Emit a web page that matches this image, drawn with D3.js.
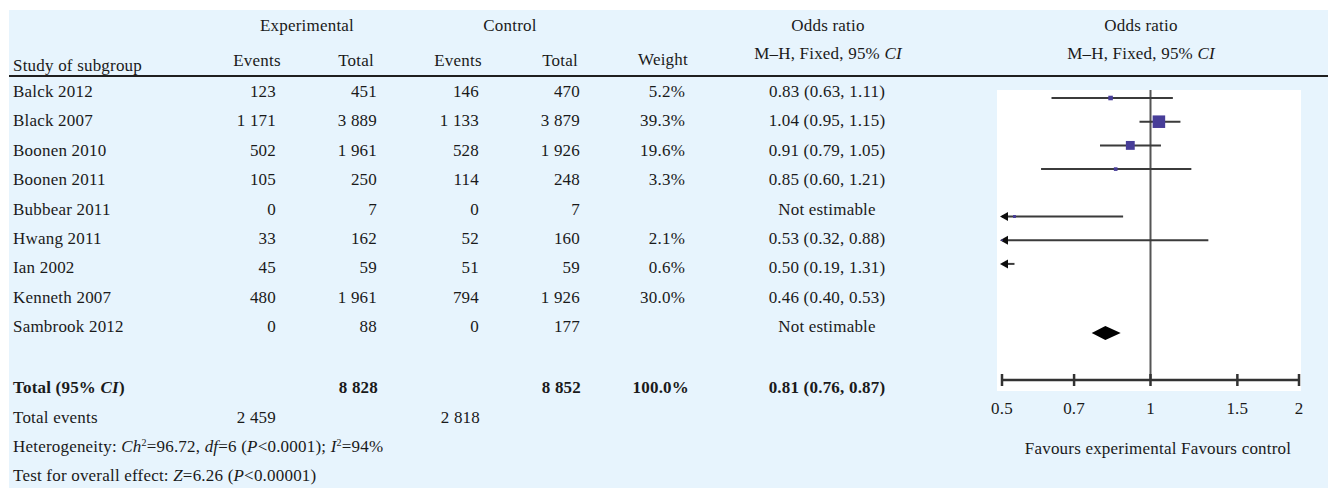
<!DOCTYPE html>
<html>
<head>
<meta charset="utf-8">
<script src="https://cdn.jsdelivr.net/npm/d3@7"></script>
<style>
  html, body { margin: 0; padding: 0; background: #ffffff; }
  svg { display: block; }
  text { font-family: "Liberation Serif", "Times New Roman", serif; font-size: 17px; letter-spacing: 0.2px; fill: #1a1a1a; }
</style>
</head>
<body>
<svg id="chart" width="1328" height="488"></svg>
<script>
// Study-level data
const studies   = ["Balck 2012", "Black 2007", "Boonen 2010", "Boonen 2011", "Bubbear 2011",
                   "Hwang 2011", "Ian 2002", "Kenneth 2007", "Sambrook 2012"];
const expEvents = [123, 1171, 502, 105, 0, 33, 45, 480, 0];
const expTotal  = [451, 3889, 1961, 250, 7, 162, 59, 1961, 88];
const ctlEvents = [146, 1133, 528, 114, 0, 52, 51, 794, 0];
const ctlTotal  = [470, 3879, 1926, 248, 7, 160, 59, 1926, 177];
const weights   = [5.2, 39.3, 19.6, 3.3, null, 2.1, 0.6, 30.0, null];
const orEst     = [0.83, 1.04, 0.91, 0.85, null, 0.53, 0.50, 0.46, null];
const orLow     = [0.63, 0.95, 0.79, 0.60, null, 0.32, 0.19, 0.40, null];
const orHigh    = [1.11, 1.15, 1.05, 1.21, null, 0.88, 1.31, 0.53, null];

// Pooled result
const totalExp = 8828, totalCtl = 8852, totalWeight = 100.0;
const pooledOR = [0.81, 0.76, 0.87];
const totalEventsExp = 2459, totalEventsCtl = 2818;

// Axis ticks of the forest plot
const axisTicks = [0.5, 0.7, 1, 1.5, 2];

const svg = d3.select("#chart");
const num = v => d3.format(",")(v).replace(/,/g, " ");
const f2 = d3.format(".2f");
const orText = (m, l, h) => `${f2(m)} (${f2(l)}, ${f2(h)})`;

// Background panel
svg.append("rect").attr("x", 9).attr("y", 10).attr("width", 1319).attr("height", 478).attr("fill", "#e7f4fd");

// Header
const hdr = svg.append("g");
const headText = (x, y, t, anchor = "middle") =>
  hdr.append("text").attr("x", x).attr("y", y).attr("dy", "0.35em").attr("text-anchor", anchor).text(t);
headText(307, 25, "Experimental");
headText(510, 25, "Control");
headText(828, 25, "Odds ratio");
headText(1141, 25, "Odds ratio");
headText(13, 65, "Study of subgroup", "start");
headText(257, 60, "Events");
headText(356, 60, "Total");
headText(458, 60, "Events");
headText(560, 60, "Total");
headText(663, 59, "Weight");
[828, 1141].forEach(cx => {
  const t = headText(cx, 53, "");
  t.append("tspan").text("M–H, Fixed, 95% ");
  t.append("tspan").attr("font-style", "italic").text("CI");
});
svg.append("line").attr("x1", 9).attr("x2", 1328).attr("y1", 76).attr("y2", 76)
  .attr("stroke", "#1f1f1f").attr("stroke-width", 2);

// Table rows
const rowY = d3.scaleLinear().domain([0, 1]).range([91, 120.4]);
const tbl = svg.append("g");
studies.forEach((s, i) => {
  const y = rowY(i);
  const cell = (x, t, anchor = "end") =>
    tbl.append("text").attr("x", x).attr("y", y).attr("dy", "0.35em").attr("text-anchor", anchor).text(t);
  cell(13, s, "start");
  cell(276, num(expEvents[i]));
  cell(377, num(expTotal[i]));
  cell(479, num(ctlEvents[i]));
  cell(580, num(ctlTotal[i]));
  if (weights[i] != null) cell(685, d3.format(".1f")(weights[i]) + "%");
  cell(827, orEst[i] != null ? orText(orEst[i], orLow[i], orHigh[i]) : "Not estimable", "middle");
});

// Summary rows
const totY = 387;
const bold = (x, y, t, anchor = "end") =>
  tbl.append("text").attr("x", x).attr("y", y).attr("dy", "0.35em").attr("text-anchor", anchor)
    .attr("font-weight", "bold").text(t);
const tt = bold(13, totY, "", "start");
tt.append("tspan").text("Total (95% ");
tt.append("tspan").attr("font-style", "italic").text("CI");
tt.append("tspan").text(")");
bold(378, totY, num(totalExp));
bold(581, totY, num(totalCtl));
bold(689, totY, d3.format(".1f")(totalWeight) + "%");
bold(827, totY, orText(...pooledOR), "middle");

const evY = 417;
tbl.append("text").attr("x", 13).attr("y", evY).attr("dy", "0.35em").text("Total events");
tbl.append("text").attr("x", 276).attr("y", evY).attr("dy", "0.35em").attr("text-anchor", "end").text(num(totalEventsExp));
tbl.append("text").attr("x", 480).attr("y", evY).attr("dy", "0.35em").attr("text-anchor", "end").text(num(totalEventsCtl));

const het = tbl.append("text").attr("x", 13).attr("y", 446).attr("dy", "0.35em");
[["Heterogeneity: ", 0], ["Ch", 1], ["2", 2], ["=96.72, ", 3], ["df", 1], ["=6 (", 0], ["P", 1],
 ["<0.0001); ", 0], ["I", 1], ["2", 2], ["=94%", 3]].forEach(([t, k]) => {
  const sp = het.append("tspan").text(t);
  if (k === 1) sp.attr("font-style", "italic");
  if (k === 2) sp.attr("font-size", "10px").attr("dy", "-6");
  if (k === 3) sp.attr("dy", "6");
});
const test = tbl.append("text").attr("x", 13).attr("y", 475).attr("dy", "0.35em");
[["Test for overall effect: ", 0], ["Z", 1], ["=6.26 (", 0], ["P", 1], ["<0.00001)", 0]].forEach(([t, k]) => {
  const sp = test.append("tspan").text(t);
  if (k === 1) sp.attr("font-style", "italic");
});

// Forest plot panel
const panel = { x0: 997, x1: 1301, y0: 90, y1: 391 };
svg.append("rect").attr("x", panel.x0).attr("y", panel.y0)
  .attr("width", panel.x1 - panel.x0).attr("height", panel.y1 - panel.y0).attr("fill", "#ffffff");

const x = d3.scaleLog().domain([0.5, 2]).range([1002, 1299]);
const fy = d3.scaleLinear().domain([0, 10]).range([98, 335]);
const axisY = 380;

const defs = svg.append("defs");
defs.append("filter").attr("id", "soft").attr("filterUnits", "userSpaceOnUse")
  .attr("x", 980).attr("y", 80).attr("width", 340).attr("height", 330)
  .append("feGaussianBlur").attr("stdDeviation", 0.75);
defs.append("clipPath").attr("id", "plotClip").append("rect")
  .attr("x", panel.x0).attr("y", panel.y0).attr("width", panel.x1 - panel.x0).attr("height", panel.y1 - panel.y0);

const fg = svg.append("g").attr("filter", "url(#soft)").attr("clip-path", "url(#plotClip)");
const [dMin, dMax] = x.domain();

// Line of no effect
fg.append("line").attr("x1", x(1)).attr("x2", x(1)).attr("y1", panel.y0).attr("y2", axisY)
  .attr("stroke", "#555").attr("stroke-width", 2);

// Confidence intervals, arrows for clipped bounds, weighted squares
studies.forEach((s, i) => {
  if (orEst[i] == null) return;
  const y = fy(i);
  const lo = Math.max(orLow[i], dMin), hi = Math.min(orHigh[i], dMax);
  fg.append("line").attr("x1", x(lo)).attr("x2", x(hi)).attr("y1", y).attr("y2", y)
    .attr("stroke", "#3a3a3a").attr("stroke-width", 2);
  if (orLow[i] < dMin) {
    const ax = x(dMin) - 2;
    fg.append("path").attr("d", `M${ax},${y} L${ax + 8},${y - 4.5} L${ax + 8},${y + 4.5} Z`).attr("fill", "#111");
  }
  if (orEst[i] >= dMin && orEst[i] <= dMax) {
    const side = 2 * Math.sqrt(weights[i]);
    fg.append("rect").attr("x", x(orEst[i]) - side / 2).attr("y", y - side / 2)
      .attr("width", side).attr("height", side).attr("fill", "#473c98");
  }
});

// Pooled diamond
const dy = fy(10) - 2;
fg.append("path")
  .attr("d", `M${x(pooledOR[1])},${dy} L${x(pooledOR[0])},${dy - 7} L${x(pooledOR[2])},${dy} L${x(pooledOR[0])},${dy + 7} Z`)
  .attr("fill", "#000");

// Axis: line and tick marks share the soft filter; labels stay crisp
const axisSoft = svg.append("g").attr("filter", "url(#soft)");
const axisLines = axisSoft.append("g").attr("transform", `translate(0,${axisY})`);
axisLines.call(d3.axisBottom(x).tickValues(axisTicks).tickSize(0).tickFormat(""))
  .call(g => g.select(".domain").attr("stroke", "#333").attr("stroke-width", 2.5).attr("d", `M${x(dMin)},0H${x(dMax)}`));
axisLines.selectAll("line.tickmark").data(axisTicks).join("line").attr("class", "tickmark")
  .attr("x1", d => x(d)).attr("x2", d => x(d)).attr("y1", -6).attr("y2", 6)
  .attr("stroke", "#333").attr("stroke-width", 2.5);
svg.append("g").selectAll("text").data(axisTicks).join("text")
  .attr("x", d => x(d)).attr("y", axisY + 28).attr("dy", "0.35em").attr("text-anchor", "middle").text(d => d);

svg.append("text").attr("x", 1158).attr("y", 448).attr("dy", "0.35em").attr("text-anchor", "middle")
  .text("Favours experimental Favours control");
</script>
</body>
</html>
